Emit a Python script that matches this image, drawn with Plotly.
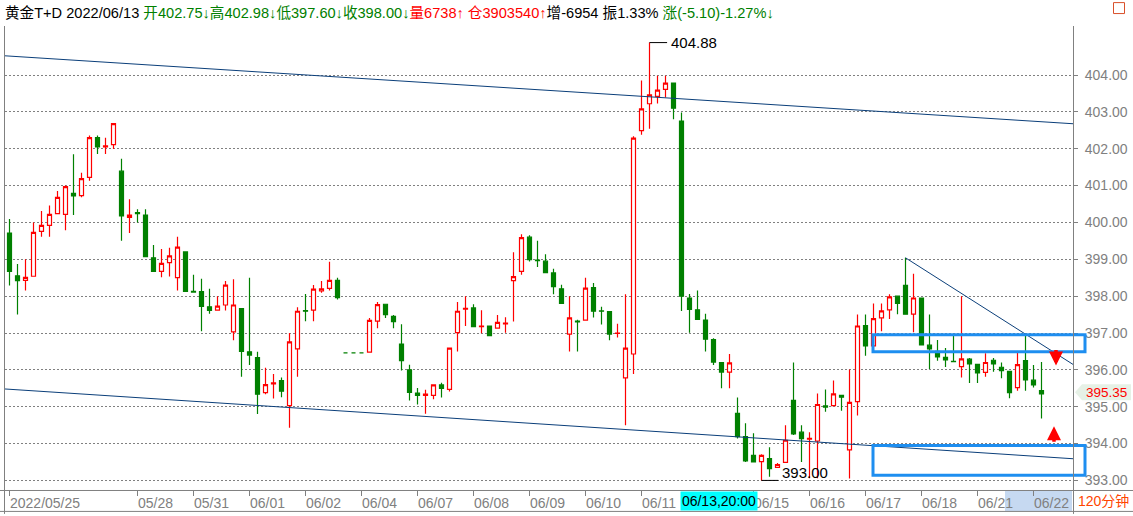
import plotly.graph_objects as go

# ---------------- data ----------------
opens = [399.71, 398.55, 398.43, 398.54, 399.76, 399.92, 400.24, 400.22, 400.79, 400.73,
         401.22, 402.30, 402.05, 402.11, 401.39, 400.14, 400.27, 400.20, 399.04, 398.67,
         398.91, 398.50, 399.20, 398.13, 398.12, 397.71, 397.62, 397.76, 397.03, 397.66,
         396.49, 396.33, 395.38, 395.62, 395.71, 395.03, 396.57, 397.61, 397.62, 398.14,
         398.21, 398.43, 396.46, 396.46, 396.46, 396.48, 397.32, 397.78, 397.45, 396.70,
         396.00, 395.37, 395.31, 395.31, 395.59, 395.47, 397.01, 397.65, 397.68, 397.17,
         397.19, 397.13, 397.25, 398.42, 398.67, 399.60, 398.98, 398.95, 398.63, 398.20,
         396.97, 397.32, 397.35, 398.23, 397.60, 397.58, 396.99, 395.78, 396.43, 402.49,
         403.22, 403.42, 403.61, 403.78, 402.75, 397.95, 397.63, 397.35, 396.82, 396.20,
         395.94, 394.82, 394.19, 393.68, 393.51, 393.59, 393.35, 393.49, 395.17, 394.31,
         394.12, 394.07, 395.02, 395.03, 395.31, 393.83, 395.14, 397.20, 396.65, 397.41,
         397.63, 398.00, 398.29, 397.51, 397.95, 396.67, 396.50, 396.34, 396.23, 396.09,
         396.29, 396.15, 395.93, 396.26, 396.07, 395.96, 395.52, 396.25, 395.72, 395.44]
highs = [400.09, 398.87, 399.00, 400.00, 400.31, 400.46, 400.85, 401.00, 401.85, 401.35,
         402.36, 402.36, 402.30, 402.68, 401.73, 400.63, 400.36, 400.36, 399.39, 399.28,
         399.31, 399.61, 399.20, 398.58, 398.47, 398.20, 398.00, 398.41, 398.46, 397.66,
         398.50, 396.49, 396.06, 395.89, 395.79, 397.00, 397.70, 398.06, 398.30, 398.41,
         398.93, 398.50, 396.46, 396.46, 396.46, 397.41, 397.84, 397.78, 397.49, 397.24,
         396.14, 395.51, 395.46, 395.59, 395.65, 396.59, 397.84, 398.00, 397.78, 397.62,
         397.19, 397.49, 397.43, 399.19, 399.68, 399.65, 399.50, 399.14, 398.74, 398.31,
         398.00, 397.36, 398.50, 398.36, 397.71, 397.58, 397.25, 398.05, 402.34, 403.85,
         404.88, 403.98, 403.98, 403.78, 402.98, 398.06, 398.15, 397.52, 396.86, 396.20,
         396.43, 395.25, 394.55, 394.28, 393.71, 393.90, 393.47, 394.50, 396.20, 394.50,
         394.31, 395.36, 395.47, 395.71, 395.32, 396.01, 397.50, 397.50, 397.80, 397.80,
         398.05, 398.00, 399.04, 398.61, 397.95, 397.50, 396.81, 396.59, 396.92, 398.00,
         396.32, 396.15, 396.45, 396.32, 396.20, 395.96, 396.48, 396.93, 396.13, 396.21]
lows = [398.29, 397.50, 398.15, 398.54, 399.61, 399.61, 400.24, 399.79, 400.20, 400.68,
        401.13, 401.86, 401.86, 401.99, 399.50, 399.71, 400.00, 399.07, 398.67, 398.51,
        398.53, 398.15, 398.13, 398.11, 397.05, 397.52, 397.62, 397.61, 396.80, 395.81,
        396.13, 394.80, 395.34, 395.22, 395.26, 394.43, 395.81, 397.32, 397.32, 398.09,
        398.15, 397.91, 396.46, 396.46, 396.46, 396.48, 397.13, 397.41, 397.13, 395.98,
        395.17, 395.06, 394.81, 395.20, 395.25, 395.41, 396.50, 397.19, 397.17, 396.99,
        396.93, 397.13, 397.01, 397.31, 398.58, 398.94, 398.79, 398.64, 398.05, 397.80,
        396.50, 396.50, 397.35, 397.42, 397.23, 396.80, 396.88, 394.50, 395.89, 402.38,
        402.54, 403.23, 403.39, 402.80, 397.60, 397.01, 397.37, 396.50, 396.13, 395.50,
        395.50, 394.14, 393.50, 393.50, 393.00, 393.10, 393.35, 393.49, 394.23, 393.50,
        393.06, 393.06, 394.86, 395.03, 394.89, 393.05, 394.76, 396.38, 396.65, 397.05,
        397.38, 397.51, 397.51, 397.02, 396.68, 396.02, 396.25, 396.08, 396.22, 395.79,
        395.64, 395.64, 395.81, 395.95, 395.77, 395.23, 395.43, 395.43, 395.52, 394.68]
closes = [398.67, 398.42, 398.51, 399.73, 399.92, 400.22, 400.68, 400.97, 400.72, 401.19,
          402.30, 402.05, 402.08, 402.68, 400.18, 400.20, 400.24, 399.07, 398.67, 398.89,
          399.09, 399.33, 398.13, 398.11, 397.72, 397.61, 397.73, 398.30, 397.76, 396.50,
          396.40, 395.34, 395.60, 395.65, 395.42, 396.76, 397.59, 397.59, 398.19, 398.20,
          398.43, 397.96, 396.46, 396.46, 396.46, 397.34, 397.77, 397.50, 397.31, 396.25,
          395.39, 395.31, 395.34, 395.59, 395.50, 396.59, 397.59, 397.67, 397.17, 397.19,
          396.93, 397.29, 397.27, 398.53, 399.59, 398.99, 398.96, 398.64, 398.26, 397.80,
          397.41, 397.30, 398.22, 397.59, 397.59, 396.97, 397.00, 396.59, 402.29, 403.08,
          403.46, 403.59, 403.78, 403.10, 398.00, 397.64, 397.37, 396.83, 396.21, 395.94,
          396.19, 394.19, 393.53, 393.50, 393.68, 393.32, 393.43, 394.09, 394.26, 394.13,
          394.14, 395.06, 394.99, 395.35, 395.26, 395.12, 397.19, 396.65, 397.39, 397.60,
          397.98, 397.80, 397.51, 397.95, 396.68, 396.57, 396.35, 396.27, 396.22, 396.30,
          396.16, 395.92, 396.20, 396.16, 395.98, 395.38, 396.14, 395.73, 395.59, 395.35]
bar_index = list(range(len(closes)))

# x-axis date labels and the bar index where each starts
tick_pos = [0, 16, 23, 30, 37, 44, 51, 58, 65, 72, 79, 93, 100, 107, 114, 121, 128]
tick_labels = ["2022/05/25", "05/28", "05/31", "06/01", "06/02", "06/04", "06/07",
               "06/08", "06/09", "06/10", "06/11", "06/15", "06/16", "06/17", "06/18",
               "06/21", "06/22"]
price_ticks = [393, 394, 395, 396, 397, 398, 399, 400, 401, 402, 403, 404]

# trend lines (bar index, price)
upper_channel_x = [-1.2, 133.5]
upper_channel_y = [404.53, 402.67]
lower_channel_x = [-1.2, 133.5]
lower_channel_y = [395.49, 393.58]
short_trend_x = [112, 133.5]
short_trend_y = [399.04, 396.07]

# highlighted zones (price ranges)
zone_upper = [396.49, 396.95]
zone_lower = [393.14, 393.95]

max_idx, max_val = 80, 404.88
min_idx, min_val = 94, 393.00
last_price = 395.35
cursor_idx, cursor_label = 84, "06/13,20:00"

# ---------------- figure ----------------
W, H = 1133, 516
ML, MR, MT, MB = 5, 60, 26, 24
PW, PH = W - ML - MR, H - MT - MB
XR = [-0.5625, 132.9375]
YR = [392.74, 405.33]

def px_x(p):
    return (p - ML) / PW

def px_y(p):
    return (H - MB - p) / PH

FONT = "Liberation Sans, Arial, Noto Sans CJK SC, sans-serif"
GREEN = "#008000"
RED = "#ff0000"
LINE_BLUE = "#0b3f7a"
BOX_BLUE = "#1e8ef0"

fig = go.Figure()

for xs, ys in [(upper_channel_x, upper_channel_y), (lower_channel_x, lower_channel_y),
               (short_trend_x, short_trend_y)]:
    fig.add_trace(go.Scatter(x=xs, y=ys, mode="lines", line=dict(color=LINE_BLUE, width=1),
                             hoverinfo="skip", showlegend=False))

fig.add_trace(go.Candlestick(
    x=bar_index, open=opens, high=highs, low=lows, close=closes,
    increasing=dict(line=dict(color=RED, width=1.2), fillcolor="white"),
    decreasing=dict(line=dict(color=GREEN, width=1.2), fillcolor=GREEN),
    whiskerwidth=0, showlegend=False, hoverinfo="skip"))

shapes = []
# zone rectangles
for lo, hi in [zone_upper, zone_lower]:
    shapes.append(dict(type="rect", xref="paper", yref="y", x0=px_x(873), x1=px_x(1085),
                       y0=lo, y1=hi, line=dict(color=BOX_BLUE, width=3),
                       fillcolor="rgba(0,0,0,0)"))
# max / min markers
shapes.append(dict(type="line", xref="x", yref="y", x0=max_idx, x1=max_idx + 2.2,
                   y0=max_val, y1=max_val, line=dict(color="black", width=1)))
shapes.append(dict(type="line", xref="x", yref="y", x0=min_idx, x1=min_idx + 2.1,
                   y0=min_val, y1=min_val, line=dict(color="black", width=1)))
# bottom strip and frame lines
shapes.append(dict(type="rect", xref="paper", yref="paper", x0=px_x(1005), x1=px_x(1072),
                   y0=px_y(513), y1=px_y(493), line=dict(width=0), fillcolor="#c6d9f1",
                   layer="below"))
for yy in [492.5, 513.5]:
    shapes.append(dict(type="line", xref="paper", yref="paper", x0=px_x(0), x1=px_x(1133),
                       y0=px_y(yy), y1=px_y(yy), line=dict(color="#808080", width=1)))
for xx in [4.5, 1073.5]:
    shapes.append(dict(type="line", xref="paper", yref="paper", x0=px_x(xx), x1=px_x(xx),
                       y0=px_y(516), y1=px_y(26), line=dict(color="#808080", width=1)))
# small window icon at the top right
shapes.append(dict(type="rect", xref="paper", yref="paper", x0=px_x(1113.5), x1=px_x(1124.5),
                   y0=px_y(13.5), y1=px_y(2.5), line=dict(color="#d9502a", width=1),
                   fillcolor="white"))
# last price tag
tag_y = (last_price - YR[0]) / (YR[1] - YR[0])
hh = 8.0 / PH
tag_c = tag_y + 1.5 / PH
shapes.append(dict(type="path", xref="paper", yref="paper",
                   path=f"M {px_x(1075)},{tag_c} L {px_x(1082)},{tag_c + hh} L {px_x(1131)},{tag_c + hh} "
                        f"L {px_x(1131)},{tag_c - hh} L {px_x(1082)},{tag_c - hh} Z",
                   fillcolor="#e6f1e6", line=dict(width=0), layer="above"))

annotations = []
header = ('黄金T+D 2022/06/13 '
          f'<span style="color:{GREEN}">开402.75↓高402.98↓低397.60↓收398.00↓</span>'
          f'<span style="color:{RED}">量6738↑ 仓3903540↑</span>'
          '增-6954 振1.33% '
          f'<span style="color:{GREEN}">涨(-5.10)-1.27%↓</span>')
annotations.append(dict(xref="paper", yref="paper", x=px_x(3), y=px_y(13), xanchor="left",
                        yanchor="middle", text=header, showarrow=False,
                        font=dict(family=FONT, size=14.6, color="black")))
annotations.append(dict(xref="x", yref="y", x=max_idx + 2.4, y=max_val, xanchor="left",
                        yanchor="middle", text=f"{max_val:.2f}", showarrow=False,
                        font=dict(family=FONT, size=15, color="black")))
annotations.append(dict(xref="x", yref="y", x=min_idx + 2.3, y=min_val, xanchor="left",
                        yanchor="bottom", text=f"{min_val:.2f}", showarrow=False, yshift=-3,
                        font=dict(family=FONT, size=15, color="black")))
annotations.append(dict(xref="paper", yref="paper", x=px_x(1106), y=tag_c, xanchor="center",
                        yanchor="middle", text=f"{last_price:.2f}", showarrow=False,
                        font=dict(family=FONT, size=13.5, color=RED)))
annotations.append(dict(xref="x", yref="paper", x=cursor_idx, y=px_y(503), xanchor="left",
                        yanchor="middle", xshift=-1.5, text=cursor_label, showarrow=False,
                        bgcolor="#00ffff", width=76, height=18, borderpad=0,
                        font=dict(family=FONT, size=14, color="black")))
annotations.append(dict(xref="paper", yref="paper", x=px_x(1103), y=px_y(503), xanchor="center",
                        yanchor="middle", text="120分钟", showarrow=False,
                        font=dict(family=FONT, size=14, color="#ff4500")))
# red arrows
annotations.append(dict(xref="paper", yref="paper", x=px_x(1056), y=px_y(367),
                        ax=0, ay=-17, text="", showarrow=True, arrowhead=2, arrowsize=0.8,
                        arrowwidth=3.5, arrowcolor=RED))
annotations.append(dict(xref="paper", yref="paper", x=px_x(1054), y=px_y(428),
                        ax=0, ay=17, text="", showarrow=True, arrowhead=2, arrowsize=0.8,
                        arrowwidth=3.5, arrowcolor=RED))

fig.update_layout(
    width=W, height=H, margin=dict(l=ML, r=MR, t=MT, b=MB, pad=0),
    paper_bgcolor="white", plot_bgcolor="white",
    font=dict(family=FONT, size=14, color="#808080"),
    showlegend=False, boxgap=0.5, boxgroupgap=0,
    shapes=shapes, annotations=annotations,
    xaxis=dict(range=XR, rangeslider=dict(visible=False), showgrid=False, zeroline=False,
               tickmode="array", tickvals=tick_pos, ticktext=tick_labels,
               ticks="outside", ticklen=5, tickcolor="#808080", tickwidth=1,
               ticklabelposition="outside right", tickfont=dict(size=14, color="#808080"),
               showline=False, fixedrange=True),
    yaxis=dict(range=YR, side="right", tickmode="array", tickvals=price_ticks,
               ticktext=[f"{v:.2f}" for v in price_ticks], showgrid=True,
               gridcolor="#808080", griddash="2px,2px", gridwidth=1, zeroline=False,
               ticks="outside", ticklen=4, tickcolor="#808080",
               tickfont=dict(size=14, color="#808080"), ticklabelstandoff=4,
               showline=False, fixedrange=True),
)

fig.write_html("out.html", config={"displayModeBar": False, "staticPlot": True},
               post_script="document.body.style.margin='0';")
